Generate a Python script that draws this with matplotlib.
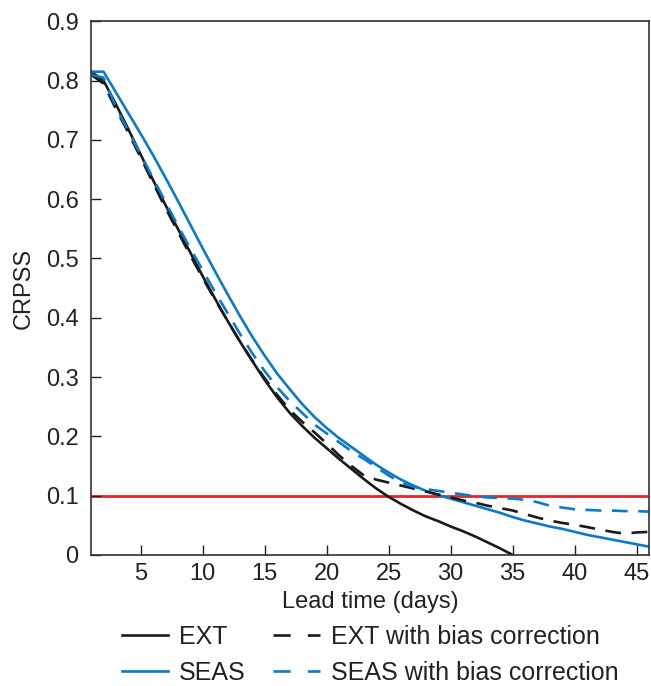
import matplotlib
matplotlib.use("Agg")
import matplotlib.pyplot as plt
import numpy as np

plt.rcParams['font.family'] = ['Liberation Sans', 'DejaVu Sans']

days = np.arange(1, 47)

# CRPSS per lead day
ext = [0.815, 0.80, 0.76, 0.718, 0.675, 0.632, 0.59, 0.55, 0.51, 0.47,
       0.432, 0.395, 0.36, 0.327, 0.295, 0.266, 0.24, 0.218, 0.198, 0.18,
       0.162, 0.145, 0.128, 0.112, 0.098, 0.086, 0.075, 0.065, 0.057, 0.048,
       0.040, 0.031, 0.021, 0.011, 0.0]
ext_bc = [0.81, 0.795, 0.752, 0.712, 0.67, 0.627, 0.585, 0.545, 0.505, 0.467,
          0.43, 0.395, 0.36, 0.328, 0.298, 0.27, 0.245, 0.225, 0.207, 0.188,
          0.168, 0.15, 0.134, 0.127, 0.122, 0.117, 0.112, 0.107, 0.102, 0.097,
          0.092, 0.088, 0.083, 0.079, 0.075, 0.069, 0.063, 0.058, 0.054, 0.051,
          0.047, 0.043, 0.039, 0.036, 0.038, 0.039]
seas = [0.815, 0.815, 0.78, 0.745, 0.71, 0.674, 0.636, 0.597, 0.557, 0.517,
        0.478, 0.44, 0.403, 0.368, 0.336, 0.306, 0.28, 0.255, 0.233, 0.214,
        0.197, 0.182, 0.167, 0.152, 0.139, 0.127, 0.117, 0.108, 0.101, 0.095,
        0.089, 0.083, 0.077, 0.071, 0.064, 0.058, 0.053, 0.048, 0.044, 0.039,
        0.034, 0.030, 0.026, 0.022, 0.018, 0.014]
seas_bc = [0.81, 0.805, 0.755, 0.715, 0.675, 0.635, 0.595, 0.555, 0.517, 0.48,
           0.443, 0.408, 0.373, 0.34, 0.31, 0.283, 0.26, 0.24, 0.22, 0.205,
           0.19, 0.175, 0.162, 0.148, 0.134, 0.122, 0.115, 0.111, 0.108, 0.105,
           0.102, 0.099, 0.097, 0.096, 0.095, 0.093, 0.089, 0.083, 0.08, 0.077,
           0.076, 0.075, 0.075, 0.074, 0.074, 0.073]
threshold = 0.1

blue = '#0a7bc4'
black = '#1a1a1a'
red = '#e8262a'

fig = plt.figure(figsize=(6.51, 6.86), dpi=100)
ax = fig.add_axes([0.14, 0.191, 0.857, 0.778])

lw = 1.9
fs = 17
ax.axhline(threshold, color=red, lw=2.0, zorder=1)
ax.plot(days[:len(ext)], ext, color=black, lw=lw, label='EXT')
ax.plot(days, seas, color=blue, lw=lw, label='SEAS')
ax.plot(days, ext_bc, color=black, lw=lw, dashes=(6, 4), label='EXT with bias correction')
ax.plot(days, seas_bc, color=blue, lw=lw, dashes=(6, 4), label='SEAS with bias correction')

ax.set_xlim(1, 46)
ax.set_ylim(0, 0.9)
ax.set_xticks(np.arange(5, 46, 5))
ax.set_yticks(np.arange(0, 0.91, 0.1))
ax.set_yticklabels(['0'] + ['%.1f' % v for v in np.arange(0.1, 0.91, 0.1)])
ax.tick_params(direction='in', length=7, width=1.0, labelsize=fs, colors='#222222')
ax.tick_params(axis='x', pad=6)
ax.tick_params(axis='y', pad=9)
for s in ax.spines.values():
    s.set_linewidth(1.2)
    s.set_color('#333333')

ax.set_xlabel('Lead time (days)', fontsize=fs, labelpad=4, color='#222222')
ax.set_ylabel('CRPSS', fontsize=fs, labelpad=8, color='#222222')

leg = ax.legend(ncol=2, loc='upper center', bbox_to_anchor=(0.5, -0.107),
                frameon=False, fontsize=18, handlelength=1.85, columnspacing=1.1,
                handletextpad=0.45, labelspacing=0.5, borderpad=0.0)
for t in leg.get_texts():
    t.set_color('#222222')
for h in leg.get_lines()[2:]:
    h.set_dashes((6.5, 6.5))

fig.savefig('out.png', dpi=100)
